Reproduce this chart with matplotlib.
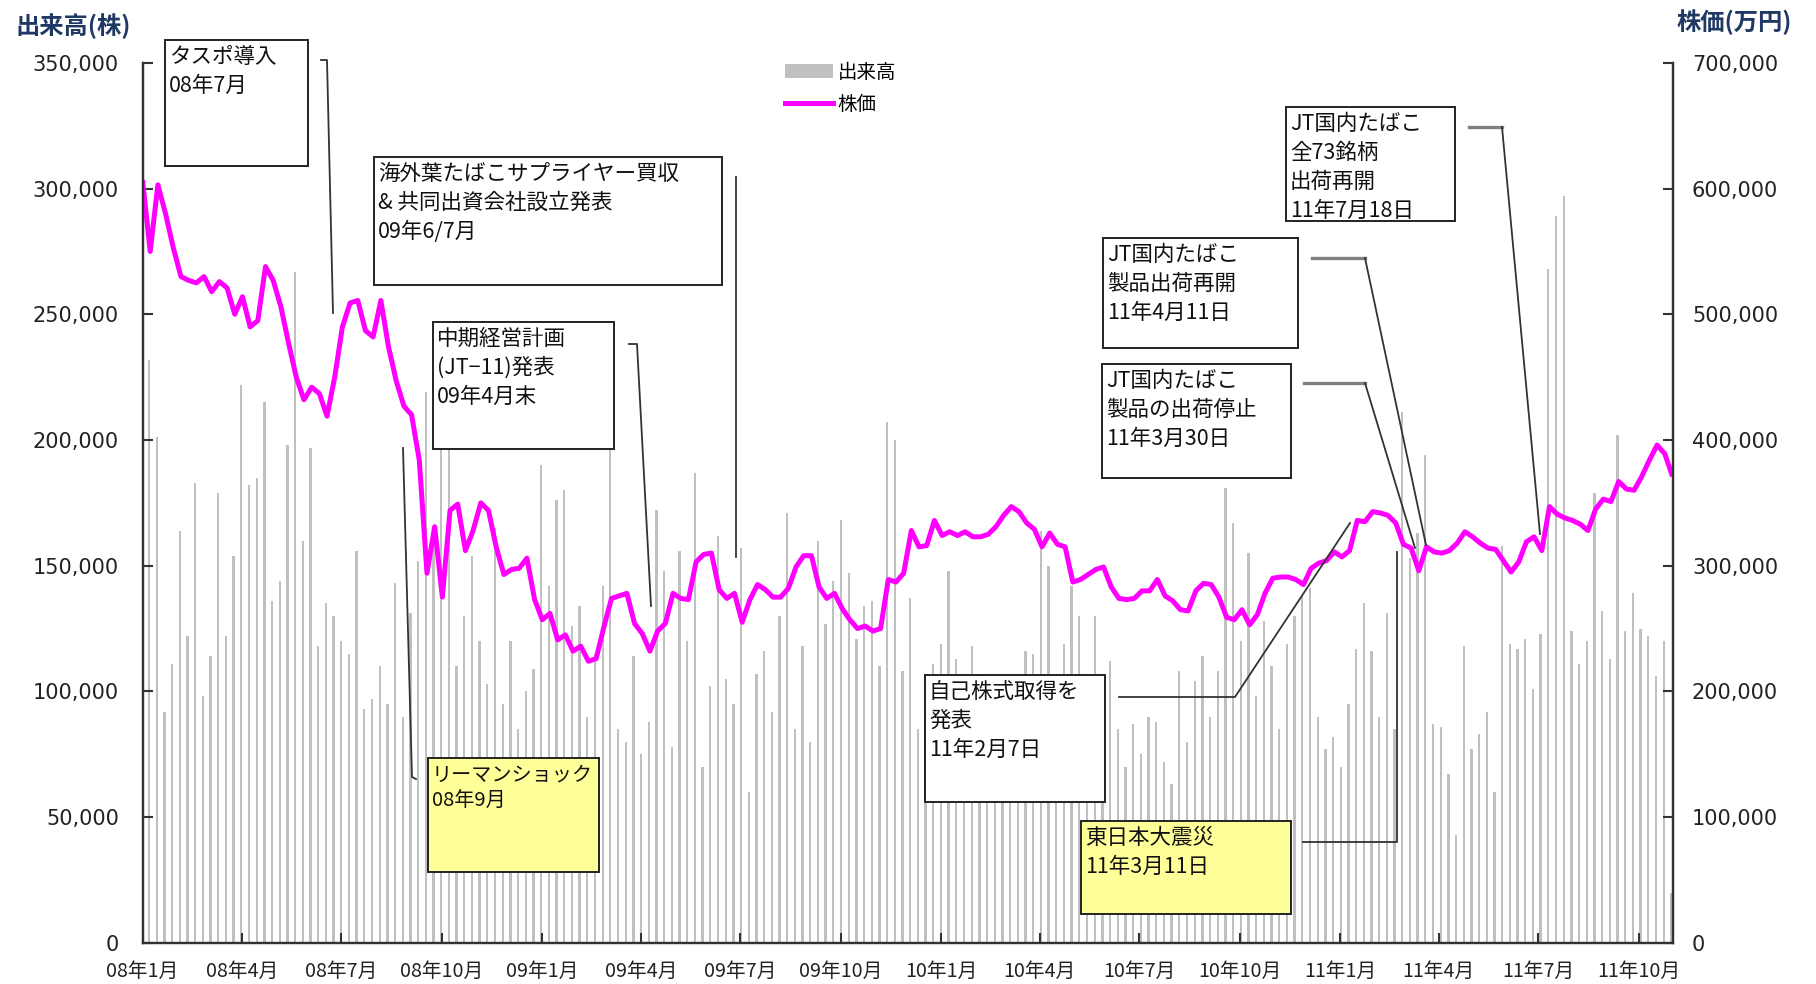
import numpy as np
import matplotlib
matplotlib.use('Agg')
import matplotlib.pyplot as plt
from matplotlib.patches import Rectangle, Patch
from matplotlib.lines import Line2D
from matplotlib.font_manager import FontProperties
import pandas as pd

W, H, DPI = 1816, 984, 100

# ---- data (weekly) ----
# weekly volume, thousand shares
volume_k = [
    232, 201, 92, 111, 164, 122, 183, 98, 114, 179, 122, 154, 222, 182, 185, 215, 136, 144, 198, 267,
    160, 197, 118, 135, 130, 120, 115, 156, 93, 97, 110, 95, 143, 90, 131, 152, 219, 163, 196, 196,
    110, 130, 154, 120, 103, 165, 95, 120, 85, 100, 109, 190, 142, 176, 180, 126, 134, 90, 115, 142,
    196, 85, 80, 114, 75, 88, 172, 148, 78, 156, 120, 187, 70, 102, 162, 105, 95, 157, 60, 107,
    116, 92, 130, 171, 85, 118, 80, 160, 127, 144, 168, 147, 121, 134, 136, 110, 207, 200, 108, 137,
    85, 90, 111, 119, 148, 113, 80, 118, 107, 75, 70, 88, 60, 78, 116, 115, 164, 150, 92, 119,
    142, 130, 85, 130, 80, 112, 85, 70, 87, 75, 90, 88, 72, 63, 108, 80, 104, 114, 90, 108,
    181, 167, 120, 155, 98, 128, 110, 85, 119, 130, 138, 141, 90, 77, 82, 70, 95, 117, 135, 116,
    90, 131, 85, 211, 153, 163, 194, 87, 86, 67, 43, 118, 77, 83, 92, 60, 158, 119, 117, 121,
    101, 123, 268, 289, 297, 124, 111, 120, 179, 132, 113, 202, 124, 139, 125, 122, 106, 120, 20,
]
# weekly share price, thousand yen
price_k = [
    607, 550, 603, 580, 553, 530, 527, 525, 530, 518, 526, 521, 500, 514, 490, 495, 538, 527, 506, 477,
    450, 432, 442, 437, 419, 450, 490, 509, 511, 487, 482, 511, 474, 447, 427, 420, 384, 294, 331, 275,
    344, 349, 312, 328, 350, 344, 315, 293, 297, 298, 306, 273, 257, 262, 241, 245, 232, 236, 224, 226,
    251, 274, 276, 278, 254, 246, 232, 248, 254, 278, 274, 273, 303, 309, 310, 281, 274, 278, 255, 273,
    285, 281, 275, 275, 282, 299, 308, 308, 283, 274, 278, 266, 257, 250, 252, 248, 250, 289, 287, 294,
    328, 315, 316, 336, 324, 327, 324, 327, 323, 323, 325, 331, 340, 347, 343, 334, 329, 315, 326, 317,
    315, 287, 289, 293, 297, 299, 283, 274, 273, 274, 280, 280, 289, 276, 272, 265, 264, 280, 286, 285,
    275, 259, 257, 265, 253, 261, 278, 290, 291, 291, 289, 285, 298, 302, 304, 311, 307, 312, 336, 335,
    343, 342, 340, 334, 317, 314, 296, 315, 311, 310, 312, 318, 327, 323, 318, 314, 313, 304, 295, 303,
    319, 323, 312, 347, 341, 338, 336, 333, 328, 345, 353, 351, 367, 361, 360, 371, 384, 396, 389, 371,
]
tick_labels = ['08年1月', '08年4月', '08年7月', '08年10月', '09年1月', '09年4月', '09年7月', '09年10月',
               '10年1月', '10年4月', '10年7月', '10年10月', '11年1月', '11年4月', '11年7月', '11年10月']
tick_months = pd.date_range('2008-01-01', periods=len(tick_labels), freq='3MS')
axis_start, axis_end = pd.Timestamp('2008-01-01'), pd.Timestamp('2011-11-01')

volume = np.array(volume_k) * 1000
price = np.array(price_k) * 1000

JP = ['Noto Sans CJK JP', 'DejaVu Sans']

def fx(x):
    return x / W

def fy(y):
    return 1 - y / H

fig = plt.figure(figsize=(W / DPI, H / DPI), dpi=DPI)
fig.patch.set_facecolor('white')
ax = fig.add_axes([fx(142.5), fy(942.8), 1530 / W, 879.9 / H])
ax2 = ax.twinx()

N = len(price)
xi = np.arange(N)
bar_x = np.arange(len(volume)) + 0.85
bars = ax.bar(bar_x, volume, width=0.3, color='#C0C0C0', linewidth=0, zorder=1)
line, = ax2.plot(xi, price, color='#FF00FF', lw=3.6, solid_joinstyle='round', solid_capstyle='butt')

ax.set_xlim(0, N - 1)
ax.set_ylim(0, 350000)
ax2.set_ylim(0, 700000)

span = (axis_end - axis_start).days
tick_pos = [(d - axis_start).days / span * (N - 1) for d in tick_months]
ax.set_xticks(tick_pos)
ax.set_xticklabels(tick_labels, fontsize=14.2, family=JP, color='#222222')

ax.set_yticks(np.arange(0, 350001, 50000))
ax.set_yticklabels([f'{v:,}' for v in range(0, 350001, 50000)], fontsize=15, family='DejaVu Sans', color='#222222')
ax2.set_yticks(np.arange(0, 700001, 100000))
ax2.set_yticklabels([f'{v:,}' for v in range(0, 700001, 100000)], fontsize=15, family='DejaVu Sans', color='#222222')

for a in (ax, ax2):
    a.spines['top'].set_visible(False)
    for s in ('left', 'right', 'bottom'):
        a.spines[s].set_color('#333333')
        a.spines[s].set_linewidth(1.6)
ax.tick_params(axis='x', direction='in', length=7, width=1.5, color='#333333', pad=13)
ax.tick_params(axis='y', direction='in', length=7, width=1.5, color='#333333', pad=17)
ax2.tick_params(axis='y', direction='in', length=7, width=1.5, color='#333333', pad=14)

# axis titles
fig.text(fx(15), fy(26), '出来高(株)', family=JP, fontsize=17.5, fontweight='bold', color='#1F3864', va='center', ha='left')
fig.text(fx(1677), fy(22), '株価(万円)', family=JP, fontsize=17.5, fontweight='bold', color='#1F3864', va='center', ha='left')

# legend
fig.legend([Patch(facecolor='#C0C0C0', edgecolor='none'), Line2D([], [], color='#FF00FF', lw=3.6)],
           ['出来高', '株価'], loc='upper left', bbox_to_anchor=(fx(785), fy(62)),
           frameon=False, handlelength=2.45, handletextpad=0.25, labelspacing=0.55,
           borderpad=0, borderaxespad=0, prop=FontProperties(family=JP, size=14))

# annotations
def box(x0, y0, x1, y1, text, face='white', size=15.5):
    r = Rectangle((fx(x0), fy(y1)), (x1 - x0) / W, (y1 - y0) / H, transform=fig.transFigure,
                  facecolor=face, edgecolor='#222222', lw=1.4, zorder=5)
    fig.add_artist(r)
    fig.text(fx(x0 + 4), fy(y0 + 6), text, family=JP, fontsize=size, va='top', ha='left',
             linespacing=1.4, color='#111111', zorder=6)

def conn(pts, color='#333333', lw=1.3):
    xs = [fx(p[0]) for p in pts]
    ys = [fy(p[1]) for p in pts]
    fig.add_artist(Line2D(xs, ys, transform=fig.transFigure, color=color, lw=lw, zorder=4))

box(165, 40, 308, 166, 'タスポ導入\n08年7月')
conn([(321, 60), (327, 60), (333, 313)])

box(374, 157, 722, 285, '海外葉たばこサプライヤー買収\n& 共同出資会社設立発表\n09年6/7月')
conn([(736, 177), (736, 557)])

box(433, 322, 614, 449, '中期経営計画\n(JT−11)発表\n09年4月末')
conn([(629, 344), (637, 344), (651, 606)])

box(428, 758, 599, 872, 'リーマンショック\n08年9月', face='#FFFF99', size=14.5)
conn([(403, 448), (412, 777), (416, 779)])

box(925, 675, 1105, 802, '自己株式取得を\n発表\n11年2月7日')
conn([(1119, 697), (1235, 697), (1350, 523)])

box(1081, 821, 1291, 914, '東日本大震災\n11年3月11日', face='#FFFF99')
conn([(1303, 842), (1397, 842), (1397, 552)])

box(1102, 364, 1291, 478, 'JT国内たばこ\n製品の出荷停止\n11年3月30日')
conn([(1304, 383), (1365, 383)], color='#808080', lw=2.4)
conn([(1365, 383), (1415, 548)])

box(1103, 238, 1298, 348, 'JT国内たばこ\n製品出荷再開\n11年4月11日')
conn([(1312, 258), (1365, 258)], color='#808080', lw=2.4)
conn([(1365, 258), (1426, 545)])

box(1286, 107, 1455, 221, 'JT国内たばこ\n全73銘柄\n出荷再開\n11年7月18日')
conn([(1469, 127), (1502, 127)], color='#808080', lw=2.4)
conn([(1502, 127), (1540, 534)])

fig.savefig('out.png', dpi=DPI)
